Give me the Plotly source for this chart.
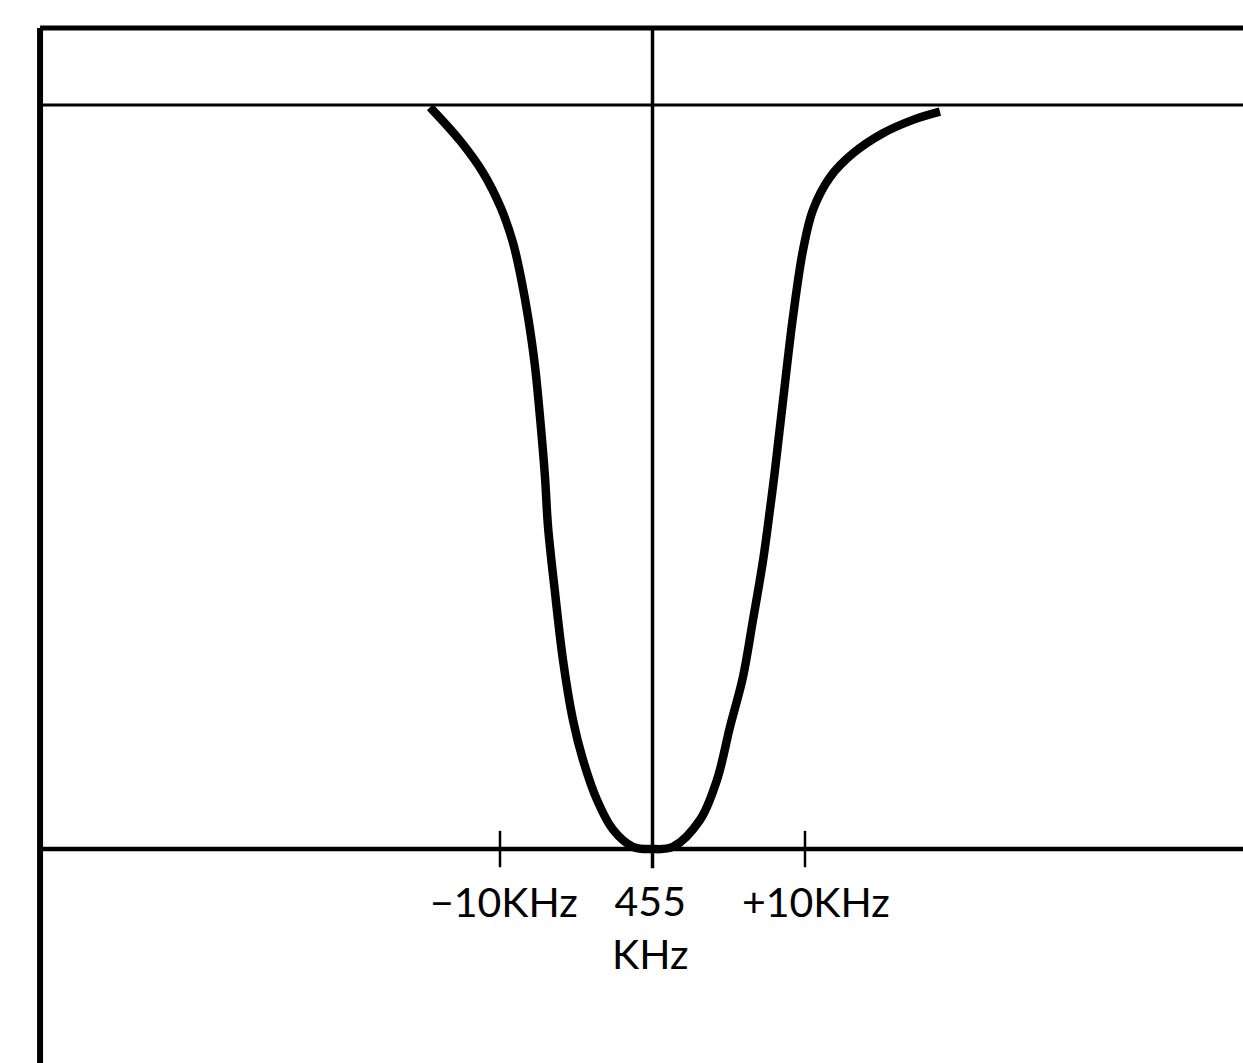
import plotly.graph_objects as go

# Frequency offset from 455 kHz (kHz) and relative response (0 = centre, 1 = reference line)
freq_offset_khz = [-14.59, -12.62, -11.11, -9.97, -9.15, -8.56, -8.16, -7.70, -7.38, -7.05,
                   -6.85, -6.39, -5.87, -5.21, -4.56, -3.64, -2.59, -1.28, 0.0,
                   1.34, 3.11, 4.23, 5.08, 5.93, 6.59, 7.25, 7.70, 8.03, 8.56,
                   9.21, 9.87, 10.52, 11.64, 13.15, 15.11, 17.08, 18.85]
response = [0.997, 0.952, 0.909, 0.863, 0.815, 0.761, 0.715, 0.648, 0.581, 0.500,
            0.433, 0.344, 0.254, 0.173, 0.120, 0.066, 0.026, 0.003, 0.0,
            0.003, 0.039, 0.093, 0.164, 0.231, 0.308, 0.388, 0.456, 0.509, 0.603,
            0.715, 0.805, 0.859, 0.903, 0.935, 0.962, 0.980, 0.991]

tick_values = [-10, 0, 10]
tick_labels = ["\u221210KHz", "455<br>KHz", "+10KHz"]
tick_label_shift = [4, -2, 11]
tick_label_y = [-0.071, -0.105, -0.071]

X_RANGE = [-42.787, 38.721]
Y_RANGE = [-0.2876, 1.1411]
FRAME_X = -40.16
FRAME_TOP = 1.1035

fig = go.Figure()

fig.add_trace(go.Scatter(
    x=freq_offset_khz, y=response, mode="lines",
    line=dict(color="black", width=8.5, shape="spline", smoothing=1.0),
    hoverinfo="skip", showlegend=False))

# Tick marks on the frequency axis
fig.add_trace(go.Scatter(
    x=[tick_values[0], tick_values[2]], y=[0, 0], mode="markers",
    marker=dict(symbol="line-ns", size=26, line=dict(color="black", width=2.5)),
    hoverinfo="skip", showlegend=False))

line_style = dict(color="black")
shapes = [
    dict(type="line", x0=FRAME_X, x1=FRAME_X, y0=Y_RANGE[0], y1=FRAME_TOP, line=dict(width=6, **line_style)),
    dict(type="line", x0=FRAME_X, x1=X_RANGE[1], y0=FRAME_TOP, y1=FRAME_TOP, line=dict(width=5, **line_style)),
    dict(type="line", x0=FRAME_X, x1=X_RANGE[1], y0=1, y1=1, line=dict(width=3, **line_style)),
    dict(type="line", x0=FRAME_X, x1=X_RANGE[1], y0=0, y1=0, line=dict(width=4.5, **line_style)),
    dict(type="line", x0=0, x1=0, y0=-0.026, y1=FRAME_TOP, line=dict(width=3.5, **line_style)),
]
for s in shapes:
    s.update(xref="x", yref="y", layer="below")

annotations = []
for v, t, sh, ty in zip(tick_values, tick_labels, tick_label_shift, tick_label_y):
    annotations.append(dict(x=v, y=ty, xref="x", yref="y", text=t, showarrow=False,
                            xanchor="center", yanchor="middle", xshift=sh,
                            font=dict(family="Lato", size=41, color="black")))

fig.update_layout(
    width=1243, height=1063,
    margin=dict(l=0, r=0, t=0, b=0),
    paper_bgcolor="white", plot_bgcolor="white",
    xaxis=dict(range=X_RANGE, visible=False, fixedrange=True),
    yaxis=dict(range=Y_RANGE, visible=False, fixedrange=True),
    shapes=shapes, annotations=annotations,
    showlegend=False,
)

fig.write_html("out.html", config={"displayModeBar": False},
               post_script="document.body.style.margin='0';document.body.style.overflow='hidden';")
